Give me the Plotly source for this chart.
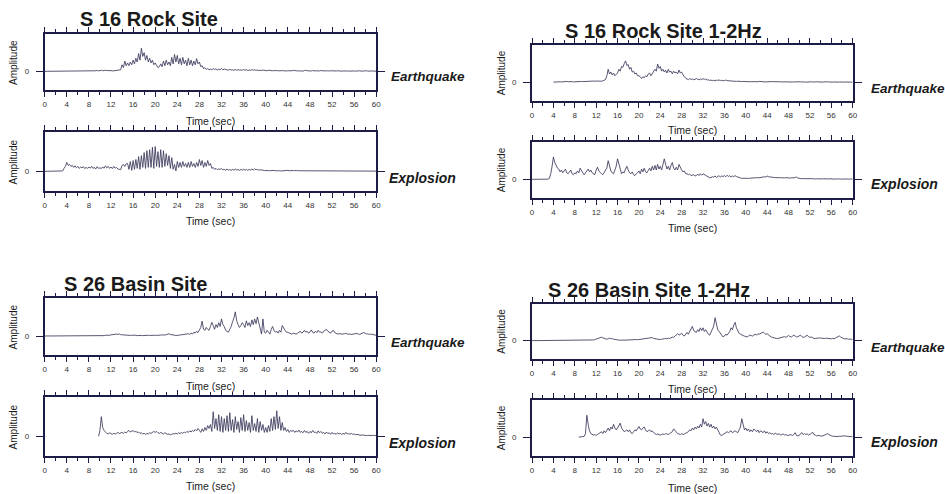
import plotly.graph_objects as go

# ---------------- data (amplitude, sampled every 0.25 s from 0 to 60 s) ----------------
time_step = 0.25
x_ticks = [0, 4, 8, 12, 16, 20, 24, 28, 32, 36, 40, 44, 48, 52, 56, 60]

eq_s16 = [
    0, 0, 0, 0,  0, 0, 0, 0,  0, 0, 0, 0,  0, 0, 0, 0,
    0.01, 0, 0.02, 0,  0.01, 0.02, 0, 0.01,  0.03, 0.01, 0.04, 0.02,  0.02, 0.03, 0.01, 0.02,
    0.03, 0.01, 0.02, 0.04,  0.02, 0.03, 0.05, 0.02,  0.04, 0.06, 0.03, 0.05,  0.06, 0.04, 0.05, 0.03,
    0.04, 0.02, 0.03, 0.01,  0.02, 0.03, 0.05, 0.08,  0.35, 0.2, 0.55, 0.3,  0.45, 0.3, 0.5, 0.35,
    0.6, 0.4, 0.7, 0.5,  0.95, 0.6, 1.24, 0.8,  1.0, 0.6, 0.85, 0.5,  0.7, 0.45, 0.6, 0.35,
    0.45, 0.3, 0.2, 0.25,  0.4, 0.25, 0.55, 0.3,  0.6, 0.35, 0.5, 0.3,  0.75, 0.4, 0.9, 0.5,
    0.85, 0.4, 0.7, 0.35,  0.75, 0.4, 0.6, 0.3,  0.7, 0.35, 0.6, 0.3,  0.55, 0.35, 0.68, 0.4,
    0.5, 0.25, 0.3, 0.15,  0.2, 0.1, 0.15, 0.08,  0.12, 0.08, 0.15, 0.1,  0.13, 0.07, 0.12, 0.09,
    0.15, 0.08, 0.12, 0.1,  0.09, 0.06, 0.11, 0.07,  0.08, 0.05, 0.1, 0.06,  0.09, 0.06, 0.08, 0.05,
    0.1, 0.06, 0.08, 0.05,  0.07, 0.05, 0.09, 0.06,  0.08, 0.05, 0.07, 0.04,  0.06, 0.04, 0.07, 0.05,
    0.05, 0.03, 0.06, 0.04,  0.05, 0.03, 0.04, 0.02,  0.04, 0.03, 0.05, 0.03,  0.04, 0.02, 0.03, 0.02,
    0.03, 0.02, 0.04, 0.03,  0.05, 0.03, 0.04, 0.02,  0.03, 0.02, 0.03, 0.01,  0.04, 0.06, 0.03, 0.02,
    0.03, 0.02, 0.04, 0.02,  0.02, 0.03, 0.01, 0.02,  0.04, 0.02, 0.03, 0.02,  0.03, 0.01, 0.02, 0.03,
    0.02, 0.03, 0.04, 0.02,  0.03, 0.01, 0.02, 0.01,  0.02, 0.03, 0.01, 0.02,  0.01, 0.02, 0.03, 0.01,
    0.02, 0.01, 0.02, 0.01,  0.03, 0.01, 0.02, 0.01,  0.02, 0.03, 0.01, 0.02,  0.03, 0.02, 0.01, 0.02,
    0.01,
]

ex_s16 = [
    0, 0, 0, 0,  0, 0, 0, 0,  0, 0, 0, 0,  0, 0.02, 0.15, 0.25,
    0.45, 0.3, 0.35, 0.25,  0.3, 0.2, 0.28, 0.18,  0.25, 0.15, 0.22, 0.18,  0.24, 0.14, 0.2, 0.15,
    0.22, 0.16, 0.25, 0.15,  0.2, 0.12, 0.24, 0.15,  0.18, 0.14, 0.22, 0.16,  0.28, 0.18, 0.25, 0.15,
    0.22, 0.14, 0.25, 0.16,  0.2, 0.12, 0.1, 0.08,  0.3, 0.35, 0.25, 0.38,  0.4, 0.1, 0.5, 0.05,
    0.55, 0.1, 0.6, 0.15,  0.75, 0.1, 0.8, 0.2,  0.95, 0.15, 1.05, 0.2,  1.1, 0.2, 1.22, 0.15,
    1.26, 0.25, 1.0, 0.2,  1.1, 0.2, 1.05, 0.25,  0.9, 0.3, 0.8, 0.15,  0.7, 0.1, 0.35, 0.02,
    0.5, 0.2, 0.45, 0.2,  0.5, 0.25, 0.4, 0.2,  0.45, 0.2, 0.5, 0.25,  0.4, 0.2, 0.45, 0.25,
    0.6, 0.3, 0.55, 0.2,  0.45, 0.25, 0.55, 0.3,  0.4, 0.15, 0.2, 0.1,  0.15, 0.08, 0.12, 0.1,
    0.14, 0.08, 0.1, 0.06,  0.12, 0.06, 0.09, 0.05,  0.1, 0.06, 0.12, 0.07,  0.09, 0.05, 0.1, 0.06,
    0.11, 0.06, 0.09, 0.05,  0.1, 0.06, 0.12, 0.07,  0.13, 0.07, 0.1, 0.06,  0.08, 0.05, 0.06, 0.04,
    0.05, 0.03, 0.04, 0.03,  0.04, 0.03, 0.05, 0.03,  0.04, 0.02, 0.03, 0.02,  0.03, 0.02, 0.04, 0.03,
    0.05, 0.03, 0.04, 0.02,  0.04, 0.03, 0.05, 0.03,  0.03, 0.02, 0.04, 0.02,  0.03, 0.02, 0.03, 0.01,
    0.04, 0.02, 0.03, 0.02,  0.03, 0.01, 0.02, 0.02,  0.03, 0.02, 0.04, 0.02,  0.02, 0.01, 0.03, 0.02,
    0.02, 0.03, 0.01, 0.02,  0.02, 0.01, 0.02, 0.01,  0.02, 0.01, 0.03, 0.01,  0.02, 0.01, 0.02, 0.01,
    0.01, 0.02, 0.01, 0.02,  0.01, 0.02, 0.01, 0.01,  0.02, 0.01, 0.02, 0.01,  0.01, 0.02, 0.01, 0.01,
    0.01,
]

eq_s16_1_2hz = [
    None, None, None, None,  None, None, None, None,  None, None, None, None,  None, None, None, None,
    0.01, 0.02, 0.01, 0.02,  0.02, 0.03, 0.02, 0.03,  0.04, 0.03, 0.05, 0.03,  0.04, 0.03, 0.04, 0.02,
    0.03, 0.04, 0.05, 0.04,  0.06, 0.05, 0.04, 0.05,  0.04, 0.05, 0.06, 0.05,  0.06, 0.07, 0.05, 0.06,
    0.07, 0.06, 0.08, 0.07,  0.06, 0.08, 0.1, 0.15,  0.35, 0.7, 0.45, 0.55,  0.4, 0.5, 0.35, 0.45,
    0.5, 0.7, 0.6, 0.85,  0.8, 1.0, 1.15, 0.9,  0.95, 0.7, 0.8, 0.55,  0.6, 0.45, 0.5, 0.35,
    0.35, 0.3, 0.2, 0.3,  0.25, 0.35, 0.3, 0.45,  0.5, 0.35, 0.45, 0.55,  0.7, 0.6, 0.98, 0.75,
    0.85, 0.6, 0.7, 0.55,  0.65, 0.5, 0.7, 0.55,  0.6, 0.45, 0.6, 0.5,  0.55, 0.45, 0.66, 0.5,
    0.55, 0.4, 0.3, 0.22,  0.18, 0.15, 0.2, 0.16,  0.18, 0.14, 0.16, 0.2,  0.17, 0.13, 0.18, 0.15,
    0.2, 0.15, 0.18, 0.12,  0.14, 0.1, 0.12, 0.09,  0.11, 0.08, 0.12, 0.1,  0.13, 0.09, 0.11, 0.08,
    0.1, 0.12, 0.09, 0.08,  0.1, 0.08, 0.07, 0.06,  0.06, 0.05, 0.06, 0.04,  0.05, 0.04, 0.05, 0.04,
    0.04, 0.05, 0.04, 0.03,  0.04, 0.03, 0.04, 0.03,  0.04, 0.03, 0.05, 0.04,  0.03, 0.04, 0.03, 0.02,
    0.03, 0.04, 0.03, 0.04,  0.05, 0.04, 0.03, 0.04,  0.03, 0.04, 0.03, 0.02,  0.03, 0.02, 0.03, 0.02,
    0.03, 0.04, 0.03, 0.02,  0.02, 0.03, 0.04, 0.03,  0.02, 0.03, 0.02, 0.03,  0.02, 0.01, 0.02, 0.03,
    0.02, 0.03, 0.02, 0.01,  0.02, 0.03, 0.02, 0.01,  0.02, 0.01, 0.02, 0.03,  0.02, 0.03, 0.02, 0.01,
    0.02, 0.01, 0.02, 0.01,  0.02, 0.01, 0.02, 0.01,  0.01, 0.02, 0.01, 0.02,  0.01, 0.02, 0.01, 0.01,
    0.01,
]

ex_s16_1_2hz = [
    0, 0, 0, 0,  0, 0, 0, 0,  0, 0, 0, 0,  0.01, 0.05, 0.3, 0.7,
    1.2, 0.9, 0.75, 0.6,  0.55, 0.4, 0.5, 0.35,  0.45, 0.55, 0.35, 0.3,  0.4, 0.5, 0.3, 0.25,
    0.35, 0.3, 0.45, 0.35,  0.6, 0.45, 0.35, 0.25,  0.35, 0.45, 0.55, 0.4,  0.5, 0.35, 0.3, 0.25,
    0.5, 0.65, 0.45, 0.35,  0.3, 0.25, 0.35, 0.45,  0.6, 1.0, 0.7, 0.45,  0.35, 0.3, 0.5, 0.7,
    1.1, 0.8, 0.45, 0.3,  0.4, 0.35, 0.55, 0.7,  0.5, 0.35, 0.3, 0.4,  0.25, 0.2, 0.3, 0.35,
    0.45, 0.3, 0.55, 0.4,  0.6, 0.4, 0.35, 0.5,  0.6, 0.45, 0.7, 0.5,  0.75, 0.5, 0.8, 0.55,
    0.7, 0.5, 0.85, 1.1,  0.8, 0.55, 0.7, 0.5,  0.75, 0.9, 0.6, 0.5,  0.65, 0.5, 0.8, 0.6,
    0.5, 0.4, 0.45, 0.3,  0.3, 0.25, 0.28, 0.2,  0.22, 0.25, 0.18, 0.2,  0.28, 0.2, 0.3, 0.22,
    0.3, 0.25, 0.2, 0.15,  0.12, 0.08, 0.1, 0.14,  0.12, 0.18, 0.1, 0.15,  0.2, 0.12, 0.18, 0.15,
    0.2, 0.14, 0.22, 0.15,  0.2, 0.12, 0.18, 0.14,  0.2, 0.15, 0.12, 0.1,  0.07, 0.05, 0.06, 0.05,
    0.06, 0.07, 0.05, 0.06,  0.07, 0.06, 0.08, 0.06,  0.07, 0.09, 0.08, 0.1,  0.12, 0.1, 0.14, 0.12,
    0.18, 0.14, 0.12, 0.1,  0.12, 0.1, 0.09, 0.1,  0.08, 0.1, 0.09, 0.08,  0.1, 0.08, 0.09, 0.07,
    0.08, 0.07, 0.08, 0.06,  0.08, 0.1, 0.12, 0.07,  0.05, 0.04, 0.03, 0.04,  0.03, 0.02, 0.03, 0.02,
    0.03, 0.04, 0.02, 0.03,  0.02, 0.03, 0.02, 0.03,  0.03, 0.02, 0.03, 0.02,  0.02, 0.03, 0.02, 0.03,
    0.02, 0.03, 0.02, 0.01,  0.02, 0.03, 0.02, 0.01,  0.02, 0.03, 0.02, 0.03,  0.02, 0.01, 0.02, 0.03,
    0.02,
]

eq_s26 = [
    0, 0, 0, 0,  0, 0, 0, 0,  0, 0, 0, 0,  0, 0, 0, 0,
    0, 0, 0, 0,  0, 0, 0, 0,  0, 0, 0, 0,  0, 0, 0, 0,
    0, 0, 0, 0,  0, 0, 0, 0,  0.01, 0.02, 0.03, 0.02,  0.04, 0.03, 0.05, 0.04,
    0.06, 0.08, 0.1, 0.12,  0.1, 0.08, 0.11, 0.07,  0.06, 0.08, 0.05, 0.06,  0.04, 0.05, 0.03, 0.04,
    0.05, 0.03, 0.04, 0.02,  0.03, 0.04, 0.03, 0.02,  0.03, 0.02, 0.03, 0.04,  0.03, 0.04, 0.02, 0.03,
    0.04, 0.03, 0.05, 0.04,  0.05, 0.06, 0.04, 0.05,  0.07, 0.1, 0.12, 0.08,  0.06, 0.05, 0.04, 0.03,
    0.03, 0.04, 0.05, 0.04,  0.06, 0.08, 0.07, 0.1,  0.12, 0.08, 0.15, 0.1,  0.2, 0.15, 0.25, 0.18,
    0.3, 0.45, 0.78, 0.35,  0.3, 0.45, 0.35, 0.3,  0.5, 0.72, 0.55, 0.35,  0.6, 0.45, 0.7, 0.5,
    0.9, 0.6, 0.5, 0.3,  0.25, 0.2, 0.35, 0.5,  0.75, 0.95, 1.27, 0.8,  0.6, 0.45, 0.55, 0.7,
    0.6, 0.45, 0.8, 0.55,  0.7, 0.5, 0.85, 0.6,  0.9, 0.65, 1.0, 0.7,  0.3, 0.1, 0.9, 0.2,
    0.15, 0.3, 0.2, 0.1,  0.35, 0.5, 0.3, 0.2,  0.25, 0.15, 0.3, 0.2,  0.55, 0.4, 0.3, 0.2,
    0.2, 0.15, 0.12, 0.1,  0.15, 0.12, 0.1, 0.14,  0.18, 0.25, 0.15, 0.2,  0.3, 0.2, 0.25, 0.15,
    0.2, 0.32, 0.2, 0.15,  0.25, 0.18, 0.3, 0.2,  0.22, 0.15, 0.25, 0.3,  0.35, 0.25, 0.2, 0.15,
    0.25, 0.3, 0.18, 0.12,  0.1, 0.12, 0.1, 0.08,  0.1, 0.12, 0.14, 0.1,  0.12, 0.1, 0.08, 0.1,
    0.12, 0.1, 0.14, 0.1,  0.08, 0.12, 0.15, 0.18,  0.15, 0.1, 0.12, 0.08,  0.1, 0.08, 0.06, 0.05,
    0.04,
]

ex_s26 = [
    None, None, None, None,  None, None, None, None,  None, None, None, None,  None, None, None, None,
    None, None, None, None,  None, None, None, None,  None, None, None, None,  None, None, None, None,
    None, None, None, None,  None, None, None, 0.0,  0.3, 1.0, 0.45, 0.3,  0.2, 0.15, 0.12, 0.18,
    0.14, 0.1, 0.16, 0.12,  0.15, 0.2, 0.14, 0.18,  0.2, 0.15, 0.22, 0.18,  0.25, 0.3, 0.22, 0.28,
    0.3, 0.22, 0.25, 0.2,  0.22, 0.15, 0.18, 0.12,  0.15, 0.1, 0.14, 0.12,  0.18, 0.15, 0.22, 0.25,
    0.2, 0.25, 0.18, 0.15,  0.2, 0.15, 0.12, 0.18,  0.14, 0.1, 0.12, 0.08,  0.1, 0.14, 0.12, 0.16,
    0.12, 0.18, 0.14, 0.2,  0.15, 0.22, 0.18, 0.25,  0.2, 0.28, 0.22, 0.3,  0.25, 0.35, 0.28, 0.4,
    0.3, 0.2, 0.38, 0.25,  0.45, 0.3, 0.55, 0.4,  0.6, 0.25, 1.25, 0.4,  0.9, 0.3, 1.1, 0.25,
    1.0, 0.2, 0.9, 0.3,  1.05, 0.25, 1.2, 0.3,  0.85, 0.2, 1.0, 0.35,  0.75, 0.2, 0.95, 0.3,
    1.1, 0.25, 0.8, 0.3,  0.7, 0.2, 1.05, 0.3,  0.65, 0.25, 0.9, 0.2,  0.75, 0.3, 0.6, 0.2,
    0.45, 0.2, 0.55, 0.25,  0.9, 0.3, 1.0, 0.35,  1.3, 0.4, 1.0, 0.3,  0.7, 0.3, 0.45, 0.25,
    0.35, 0.2, 0.3, 0.25,  0.3, 0.2, 0.28, 0.22,  0.32, 0.2, 0.25, 0.18,  0.3, 0.2, 0.25, 0.15,
    0.25, 0.18, 0.3, 0.2,  0.22, 0.15, 0.28, 0.18,  0.25, 0.15, 0.2, 0.12,  0.22, 0.14, 0.18, 0.1,
    0.2, 0.12, 0.15, 0.1,  0.18, 0.12, 0.15, 0.1,  0.15, 0.1, 0.2, 0.12,  0.14, 0.1, 0.15, 0.1,
    0.12, 0.08, 0.1, 0.07,  0.06, 0.05, 0.07, 0.05,  0.06, 0.04, 0.05, 0.04,  0.05, 0.04, 0.05, 0.04,
    0.03,
]

eq_s26_1_2hz = [
    0, 0, 0, 0,  0, 0, 0, 0,  0, 0, 0, 0,  0, 0, 0, 0,
    0, 0, 0, 0,  0, 0, 0, 0,  0, 0, 0, 0,  0, 0, 0, 0,
    0, 0, 0, 0,  0, 0, 0, 0,  0, 0, 0, 0,  0.01, 0.02, 0.04, 0.06,
    0.08, 0.1, 0.12, 0.15,  0.19, 0.15, 0.12, 0.1,  0.08, 0.1, 0.14, 0.1,  0.12, 0.08, 0.06, 0.04,
    0.03, 0.02, 0.02, 0.03,  0.02, 0.03, 0.04, 0.03,  0.04, 0.05, 0.06, 0.05,  0.06, 0.07, 0.06, 0.05,
    0.06, 0.08, 0.07, 0.09,  0.1, 0.08, 0.09, 0.1,  0.12, 0.15, 0.17, 0.12,  0.1, 0.08, 0.06, 0.05,
    0.06, 0.08, 0.07, 0.1,  0.12, 0.1, 0.14, 0.12,  0.15, 0.2, 0.18, 0.25,  0.3, 0.38, 0.3, 0.35,
    0.4, 0.3, 0.25, 0.35,  0.45, 0.35, 0.5, 0.6,  0.78, 0.55, 0.5, 0.45,  0.6, 0.5, 0.7, 0.55,
    0.7, 0.5, 0.6, 0.45,  0.35, 0.3, 0.45, 0.6,  0.8, 1.25, 0.9, 0.6,  0.5, 0.4, 0.3, 0.2,
    0.25, 0.35, 0.3, 0.4,  0.5, 0.7, 0.6, 0.85,  1.0, 0.7, 0.55, 0.4,  0.35, 0.3, 0.28, 0.25,
    0.22, 0.2, 0.25, 0.3,  0.28, 0.25, 0.3, 0.35,  0.3, 0.38, 0.35, 0.4,  0.42, 0.47, 0.4, 0.35,
    0.38, 0.3, 0.25, 0.2,  0.18, 0.15, 0.14, 0.12,  0.12, 0.14, 0.16, 0.18,  0.2, 0.22, 0.18, 0.25,
    0.28, 0.22, 0.2, 0.25,  0.3, 0.25, 0.2, 0.22,  0.25, 0.3, 0.22, 0.18,  0.2, 0.25, 0.3, 0.22,
    0.18, 0.2, 0.15, 0.12,  0.12, 0.14, 0.12, 0.15,  0.14, 0.12, 0.1, 0.12,  0.14, 0.12, 0.1, 0.12,
    0.1, 0.12, 0.1, 0.14,  0.18, 0.22, 0.26, 0.2,  0.15, 0.12, 0.1, 0.12,  0.1, 0.08, 0.1, 0.08,
    0.06,
]

ex_s26_1_2hz = [
    None, None, None, None,  None, None, None, None,  None, None, None, None,  None, None, None, None,
    None, None, None, None,  None, None, None, None,  None, None, None, None,  None, None, None, None,
    None, None, None, 0.01,  0.01, 0.02, 0.03, 0.05,  0.2, 1.18, 0.7, 0.35,  0.2, 0.15, 0.12, 0.15,
    0.1, 0.15, 0.2, 0.25,  0.3, 0.2, 0.35, 0.25,  0.4, 0.5, 0.35, 0.55,  0.45, 0.7, 0.5, 0.4,
    0.5, 0.6, 0.76, 0.5,  0.4, 0.3, 0.35, 0.4,  0.3, 0.4, 0.25, 0.2,  0.3, 0.4, 0.35, 0.45,
    0.58, 0.45, 0.4, 0.5,  0.55, 0.4, 0.3, 0.35,  0.4, 0.3, 0.35, 0.25,  0.2, 0.15, 0.18, 0.15,
    0.12, 0.15, 0.18, 0.15,  0.2, 0.18, 0.15, 0.2,  0.25, 0.3, 0.45, 0.35,  0.25, 0.2, 0.18, 0.15,
    0.2, 0.15, 0.18, 0.22,  0.25, 0.3, 0.4, 0.35,  0.5, 0.4, 0.55, 0.45,  0.6, 0.5, 0.7, 0.55,
    1.0, 0.7, 0.85, 0.6,  0.75, 0.55, 0.7, 0.5,  0.6, 0.45, 0.55, 0.4,  0.2, 0.12, 0.1, 0.15,
    0.2, 0.25, 0.3, 0.25,  0.3, 0.35, 0.25, 0.3,  0.35, 0.3, 0.25, 0.4,  0.55, 1.0, 0.6, 0.4,
    0.5, 0.35, 0.45, 0.3,  0.4, 0.3, 0.45, 0.35,  0.3, 0.4, 0.25, 0.35,  0.3, 0.25, 0.35, 0.22,
    0.3, 0.2, 0.25, 0.18,  0.2, 0.15, 0.22, 0.18,  0.15, 0.2, 0.12, 0.15,  0.18, 0.12, 0.15, 0.1,
    0.12, 0.1, 0.14, 0.1,  0.15, 0.25, 0.1, 0.08,  0.1, 0.2, 0.25, 0.15,  0.2, 0.15, 0.18, 0.12,
    0.15, 0.2, 0.28, 0.15,  0.12, 0.08, 0.1, 0.07,  0.08, 0.06, 0.08, 0.1,  0.15, 0.2, 0.15, 0.1,
    0.08, 0.06, 0.05, 0.04,  0.05, 0.04, 0.06, 0.05,  0.06, 0.08, 0.07, 0.05,  0.05, 0.06, 0.04, 0.05,
    0.04,
]

titles = ["S 16 Rock Site", "S 16 Rock Site 1-2Hz", "S 26 Basin Site", "S 26 Basin Site 1-2Hz"]
event_labels = ["Earthquake", "Explosion"]

# ---------------- layout ----------------
W, H = 945, 494
FONT = "Liberation Sans, Arial, Helvetica, sans-serif"
LINE_COL = "#1c1c44"
TRACE_COL = "#3a3a5c"

# (series, left, right, top, bottom) in pixels
panels = [
    (eq_s16, 43, 377, 34, 90),
    (ex_s16, 43, 377, 132, 191),
    (eq_s16_1_2hz, 534, 857, 45, 101),
    (ex_s16_1_2hz, 534, 857, 142, 198),
    (eq_s26, 43, 377, 298, 355),
    (ex_s26, 43, 377, 397, 456),
    (eq_s26_1_2hz, 534, 857, 304, 359),
    (ex_s26_1_2hz, 534, 857, 400, 456),
]

fig = go.Figure()
layout = dict(
    width=W, height=H, margin=dict(l=0, r=0, t=0, b=0),
    paper_bgcolor="white", plot_bgcolor="white", showlegend=False,
    font=dict(family=FONT, color="#222"),
)

for i, (series, l, r, t, b) in enumerate(panels):
    n = len(series)
    assert n == 241, (i, n)
    times = [k * time_step for k in range(n)]
    ax = "" if i == 0 else str(i + 1)
    fig.add_trace(go.Scatter(
        x=times, y=series, mode="lines", xaxis="x" + ax, yaxis="y" + ax,
        line=dict(color=TRACE_COL, width=0.85), connectgaps=False, hoverinfo="skip",
    ))
    layout["xaxis" + ax] = dict(
        domain=[l / W, r / W], anchor="y" + ax, range=[0, 60],
        tickvals=x_ticks, ticktext=[str(v) for v in x_ticks],
        ticks="outside", ticklen=5, tickwidth=1, tickcolor=LINE_COL,
        minor=dict(dtick=2, tick0=0, ticks="outside", ticklen=3, tickcolor=LINE_COL, tickwidth=1),
        showline=True, linewidth=2, linecolor=LINE_COL, mirror="ticks",
        showgrid=False, zeroline=False, fixedrange=True,
        tickfont=dict(size=8, color="#333", family=FONT),
    )
    layout["yaxis" + ax] = dict(
        domain=[1 - b / H, 1 - t / H], anchor="x" + ax, range=[-1, 2],
        tickvals=[0], ticktext=["0"],
        ticks="outside", ticklen=7, tickwidth=1, tickcolor=LINE_COL,
        ticklabelstandoff=5,
        showline=True, linewidth=2, linecolor=LINE_COL, mirror="ticks",
        showgrid=False, zeroline=False, fixedrange=True,
        tickfont=dict(size=8, color="#333", family=FONT),
    )

fig.update_layout(**layout)

def ann(text, px, py, size, bold=False, italic=False, angle=0, xanchor="center"):
    if bold:
        text = "<b>" + text + "</b>"
    if italic:
        text = "<i>" + text + "</i>"
    fig.add_annotation(
        text=text, x=px / W, y=1 - py / H, xref="paper", yref="paper",
        showarrow=False, xanchor=xanchor, yanchor="middle", textangle=angle,
        font=dict(size=size, family=FONT, color="#1a1a1a"),
    )

# titles
ann(titles[0], 148, 19, 20, bold=True)
ann(titles[1], 666, 31, 20, bold=True)
ann(titles[2], 134, 284, 20, bold=True)
ann(titles[3], 652, 290, 20, bold=True)

# event labels
ann(event_labels[0], 390, 77, 13.5, bold=True, italic=True, xanchor="left")
ann(event_labels[1], 388, 178, 14, bold=True, italic=True, xanchor="left")
ann(event_labels[0], 873, 88, 13.5, bold=True, italic=True, xanchor="left")
ann(event_labels[1], 873, 184, 14, bold=True, italic=True, xanchor="left")
ann(event_labels[0], 390, 342, 13.5, bold=True, italic=True, xanchor="left")
ann(event_labels[1], 388, 443, 14, bold=True, italic=True, xanchor="left")
ann(event_labels[0], 873, 347, 13.5, bold=True, italic=True, xanchor="left")
ann(event_labels[1], 873, 442, 14, bold=True, italic=True, xanchor="left")

# axis titles
for (series, l, r, t, b), ty in zip(panels, [121, 221, 130, 228, 386, 486, 389, 488]):
    ax_x = 12 if l < 100 else 503
    ann("Amplitude", ax_x, (t + b) / 2, 10, angle=-90)
    ann("Time (sec)", (l + r) / 2, ty, 10.5)

fig.write_html("out.html")
